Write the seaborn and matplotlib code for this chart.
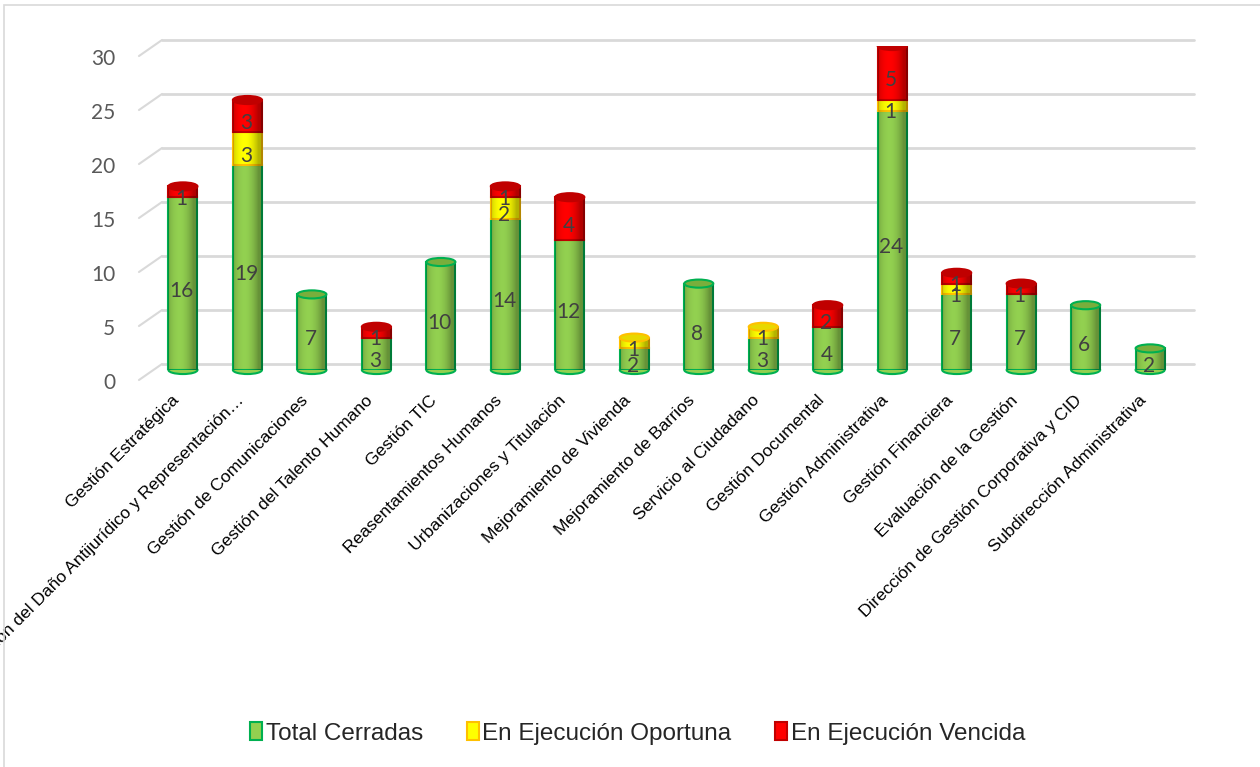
import numpy as np
import pandas as pd
import seaborn as sns
import matplotlib.pyplot as plt
import matplotlib.transforms as mtransforms
from matplotlib.patches import Patch, Ellipse, Rectangle

# Data
procesos = [
    "Gestión Estratégica",
    "Prevención del Daño Antijurídico y Representación…",
    "Gestión de Comunicaciones",
    "Gestión del Talento Humano",
    "Gestión TIC",
    "Reasentamientos Humanos",
    "Urbanizaciones y Titulación",
    "Mejoramiento de Vivienda",
    "Mejoramiento de Barrios",
    "Servicio al Ciudadano",
    "Gestión Documental",
    "Gestión Administrativa",
    "Gestión Financiera",
    "Evaluación de la Gestión",
    "Dirección de Gestión Corporativa y CID",
    "Subdirección Administrativa",
]
total_cerradas = [16, 19, 7, 3, 10, 14, 12, 2, 8, 3, 4, 24, 7, 7, 6, 2]
ejec_oportuna = [0, 3, 0, 0, 0, 2, 0, 1, 0, 1, 0, 1, 1, 0, 0, 0]
ejec_vencida = [1, 3, 0, 1, 0, 1, 4, 0, 0, 0, 2, 5, 1, 1, 0, 0]
series_names = ["Total Cerradas", "En Ejecución Oportuna", "En Ejecución Vencida"]
y_ticks = [0, 5, 10, 15, 20, 25, 30]

face_colors = ["#92D050", "#FFFF00", "#FF0000"]
edge_colors = ["#00B050", "#FFC000", "#C00000"]
cap_colors = ["#79AE3C", "#E8D800", "#C00000"]

df = pd.DataFrame({
    "Proceso": procesos,
    series_names[0]: total_cerradas,
    series_names[1]: ejec_oportuna,
    series_names[2]: ejec_vencida,
})

sns.set_theme(style="white")
plt.rcParams["font.family"] = ["Liberation Sans", "DejaVu Sans"]

fig = plt.figure(figsize=(12.6, 7.67), dpi=100)
ax = fig.add_axes([0.1103, 0.5176, 0.8373, 0.4224])


def px(dx, dy):
    # offset in screen pixels (y up)
    return mtransforms.ScaledTranslation(dx / 100, dy / 100, fig.dpi_scale_trans)


bar_w = 0.45
bottom = np.zeros(len(procesos))
top_series = np.zeros(len(procesos), dtype=int)
for i, name in enumerate(series_names):
    vals = df[name].to_numpy()
    sns.barplot(data=df, x="Proceso", y=name, order=procesos, bottom=bottom,
                color=face_colors[i], edgecolor=edge_colors[i], linewidth=1.5,
                width=bar_w, ax=ax, zorder=3, saturation=1)
    cont = ax.containers[-1]
    labels = [str(v) if v > 0 else "" for v in vals]
    anns = ax.bar_label(cont, labels=labels, label_type="center", fontsize=15,
                        color="#404040", family=["Lato", "DejaVu Sans"], zorder=6)
    for a in anns:
        a.xyann = (-1, -5)
    top_series[vals > 0] = i
    bottom = bottom + vals
tops = bottom

# cylinder shading, caps and rounded bases
shade = np.zeros((1, 60, 4))
xs = np.linspace(-1, 1, 60)
shade[0, :, 3] = np.clip(0.32 * (xs + 0.25) ** 2, 0, 0.3)
for j in range(len(procesos)):
    clip = Rectangle((j - bar_w / 2, 0), bar_w, tops[j], transform=ax.transData)
    im = ax.imshow(shade, extent=(j - bar_w / 2, j + bar_w / 2, 0, tops[j]),
                   aspect="auto", zorder=3.5, interpolation="bilinear")
    im.set_clip_path(clip)
    ax.add_patch(Ellipse((j, tops[j]), bar_w, 0.75, facecolor=cap_colors[top_series[j]],
                         edgecolor=edge_colors[top_series[j]], linewidth=1.5, zorder=4))
    ax.add_patch(Ellipse((j, 0), bar_w, 0.75, facecolor=face_colors[0],
                         edgecolor=edge_colors[0], linewidth=1.5, zorder=2.5, clip_on=False))

ax.set_xlim(-0.682, 15.68)
ax.set_ylim(0, 30)
ax.set_aspect("auto")
ax.grid(False)
for s in ax.spines.values():
    s.set_visible(False)
ax.set_xlabel("")
ax.set_ylabel("")

# back-wall gridlines, with a slanted perspective stub on the left
fig.canvas.draw()
blend = mtransforms.blended_transform_factory(ax.transAxes, ax.transData)
stub_x = 0.0218
for v in y_ticks:
    ax.plot([stub_x, 1.0], [v, v], color="#D9D9D9", linewidth=2,
            transform=blend + px(0, 6), zorder=0, clip_on=False)
    y_pix = ax.transData.transform((0, v))[1]
    inv = ax.transAxes.inverted()
    a0 = inv.transform((0, y_pix - 10))[1]
    a1 = inv.transform((0, y_pix + 6))[1]
    ax.plot([0.0, stub_x], [a0, a1], color="#D9D9D9", linewidth=1.5,
            transform=ax.transAxes, zorder=0, clip_on=False)

ax.set_yticks(y_ticks)
ax.set_yticklabels([str(v) for v in y_ticks], fontsize=15, color="#595959",
                   family=["Lato", "DejaVu Sans"])
ax.tick_params(axis="y", length=0, pad=17)
for lab in ax.get_yticklabels():
    lab.set_transform(lab.get_transform() + px(0, -11))

ax.set_xticks(range(len(procesos)))
ax.set_xticklabels(procesos, rotation=45, ha="right", va="center", rotation_mode="anchor",
                   fontsize=12.6, color="black",
                   family=["Liberation Sans Narrow", "Liberation Sans", "DejaVu Sans"])
ax.tick_params(axis="x", length=0, pad=20)
for lab in ax.get_xticklabels():
    lab.set_transform(lab.get_transform() + px(-6, 0))

handles = [Patch(facecolor=face_colors[i], edgecolor=edge_colors[i], linewidth=1.5)
           for i in range(3)]
fig.legend(handles, series_names, loc="center", bbox_to_anchor=(0.506, 0.044), ncol=3,
           frameon=False, fontsize=17.5, handlelength=0.5, handleheight=0.8,
           handletextpad=0.15, columnspacing=1.8)

fig.patches.append(Rectangle((0.003, -0.01), 1.01, 1.004, transform=fig.transFigure,
                             fill=False, edgecolor="#D9D9D9", linewidth=1.2))

fig.savefig("out.png", dpi=100)
